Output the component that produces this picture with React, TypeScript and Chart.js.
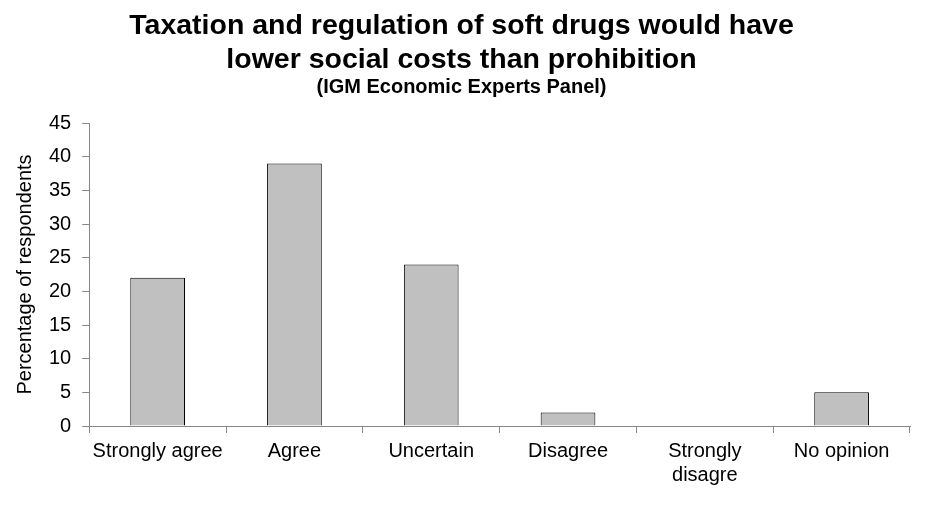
import { useEffect, useRef } from 'react'
import { Chart, registerables } from 'chart.js'
Chart.register(...registerables)

const categories = ['Strongly agree', 'Agree', 'Uncertain', 'Disagree', ['Strongly', 'disagre'], 'No opinion']
const shares = [22, 39, 24, 2, 0, 5]
const titleLines = ['Taxation and regulation of soft drugs would have', 'lower social costs than prohibition']
const subtitleText = '(IGM Economic Experts Panel)'
const yLabel = 'Percentage of respondents'

const FONT = "'Liberation Sans', Arial, sans-serif"
const AXIS = '#868686'

export default function App() {
  const ref = useRef<HTMLCanvasElement | null>(null)
  useEffect(() => {
    document.body.style.margin = '0'
    if (!ref.current) return
    const chart = new Chart(ref.current, {
      type: 'bar',
      data: {
        labels: categories,
        datasets: [{
          data: shares,
          backgroundColor: '#c0c0c0',
          borderColor: '#000000',
          borderWidth: 1,
          barPercentage: 0.4,
          categoryPercentage: 1,
        }],
      },
      options: {
        responsive: false,
        animation: false,
        layout: { padding: { left: 13, right: 24, top: 0, bottom: 13 } },
        plugins: {
          legend: { display: false },
          tooltip: { enabled: false },
          title: {
            display: true,
            text: titleLines,
            color: '#000',
            font: { family: FONT, size: 28.5, weight: 'bold', lineHeight: 1.193 },
            padding: { top: 9, bottom: 0 },
          },
          subtitle: {
            display: true,
            text: subtitleText,
            color: '#000',
            font: { family: FONT, size: 20, weight: 'bold', lineHeight: 1.2 },
            padding: { top: -2, bottom: 24 },
          },
        },
        scales: {
          x: {
            grid: { offset: true, drawOnChartArea: false, drawTicks: true, tickLength: 7, color: AXIS },
            border: { color: AXIS },
            ticks: { color: '#000', font: { family: FONT, size: 20, lineHeight: 1.2 }, padding: 6, maxRotation: 0, autoSkip: false },
          },
          y: {
            min: 0,
            max: 45,
            grid: { drawOnChartArea: false, drawTicks: true, tickLength: 7, color: AXIS },
            border: { color: AXIS },
            ticks: { stepSize: 5, color: '#000', font: { family: FONT, size: 20 }, padding: 11 },
            title: { display: true, text: yLabel, color: '#000', font: { family: FONT, size: 20, lineHeight: 1.2 }, padding: { top: 0, bottom: 1 } },
          },
        },
      },
    })
    return () => chart.destroy()
  }, [])
  return <canvas ref={ref} width={934} height={506} style={{ display: 'block' }} />
}
